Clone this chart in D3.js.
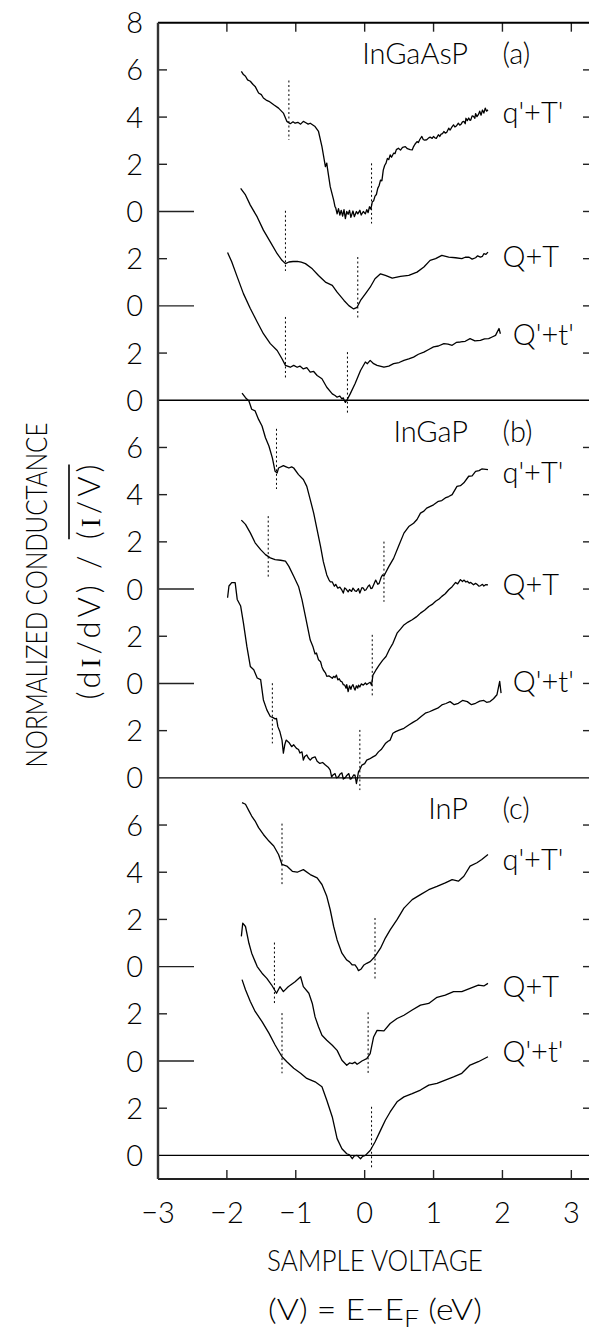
<!DOCTYPE html>
<html><head><meta charset="utf-8">
<script src="https://cdn.jsdelivr.net/npm/d3@7"></script>
<style>
html,body{margin:0;padding:0;background:#fff;}
svg{display:block;}
text{font-family:"Lato","Roboto",sans-serif;font-weight:300;fill:#000;}
</style></head>
<body>
<svg id="c" width="589" height="1331"></svg>
<script>
// ---------------- data ----------------
const xTickValues = [-3,-2,-1,0,1,2,3];
const xTickLabels = ["\u22123","\u22122","\u22121","0","1","2","3"];
const yLocalTicks = [0,2,4,6,8,10,12,14,16];
const yTickLabelsTop = ["0","2","0","2","0","2","4","6","8"];
const yTickLabelsLower = ["0","2","0","2","0","2","4","6"];
const panelNames = ["InGaAsP","InGaP","InP"];
const panelTags = ["(a)","(b)","(c)"];
const panelBase = [32,16,0];
const curveNames = ["q'+T'","Q+T","Q'+t'"];
const curveOffsets = [8,4,0];

// panel (a) InGaAsP
const a_qT = [[-1.79,5.94],[-1.76,5.80],[-1.73,5.73],[-1.70,5.58],[-1.66,5.52],[-1.62,5.38],[-1.59,5.30],[-1.54,5.02],[-1.50,4.95],[-1.47,4.81],[-1.43,4.72],[-1.39,4.67],[-1.32,4.52],[-1.25,4.38],[-1.18,4.17],[-1.13,3.82],[-1.08,3.72],[-1.04,3.80],[-1.01,3.74],[-0.97,3.78],[-0.93,3.70],[-0.89,3.82],[-0.86,3.77],[-0.82,3.70],[-0.79,3.74],[-0.72,3.60],[-0.67,3.39],[-0.62,2.75],[-0.57,1.90],[-0.55,2.05],[-0.54,1.83],[-0.50,1.05],[-0.45,0.48],[-0.43,0.20],[-0.42,0.15],[-0.40,-0.10],[-0.38,0.12],[-0.36,-0.15],[-0.34,0.05],[-0.32,-0.20],[-0.30,0.08],[-0.28,-0.30],[-0.26,0.00],[-0.24,-0.12],[-0.22,0.05],[-0.20,-0.25],[-0.17,0.02],[-0.15,-0.22],[-0.12,0.00],[-0.10,-0.10],[-0.07,0.05],[-0.05,-0.15],[-0.02,0.00],[0.01,-0.10],[0.03,0.08],[0.05,-0.05],[0.07,0.20],[0.09,0.10],[0.11,0.40],[0.13,0.45],[0.15,0.65],[0.17,0.72],[0.19,0.98],[0.21,1.10],[0.23,1.33],[0.25,1.30],[0.27,1.75],[0.29,1.95],[0.31,2.05],[0.33,2.25],[0.35,2.20],[0.37,2.40],[0.39,2.30],[0.42,2.47],[0.44,2.45],[0.46,2.62],[0.49,2.68],[0.52,2.60],[0.55,2.72],[0.59,2.75],[0.62,2.66],[0.66,2.62],[0.69,2.61],[0.71,2.75],[0.73,2.85],[0.76,2.96],[0.78,2.92],[0.80,3.05],[0.83,3.18],[0.85,3.05],[0.87,3.02],[0.90,3.04],[0.93,3.12],[0.95,3.15],[0.98,3.10],[1.00,3.18],[1.02,3.12],[1.04,3.10],[1.07,3.25],[1.09,3.18],[1.11,3.28],[1.13,3.30],[1.15,3.39],[1.17,3.32],[1.19,3.35],[1.22,3.53],[1.24,3.45],[1.26,3.55],[1.29,3.67],[1.31,3.58],[1.33,3.62],[1.36,3.74],[1.38,3.66],[1.40,3.70],[1.42,3.80],[1.44,3.82],[1.46,3.72],[1.47,3.95],[1.49,3.85],[1.51,3.96],[1.53,3.86],[1.54,3.88],[1.56,4.05],[1.58,4.03],[1.60,3.95],[1.61,4.15],[1.63,4.02],[1.65,4.10],[1.67,4.25],[1.69,4.08],[1.71,4.30],[1.73,4.17],[1.75,4.38],[1.77,4.25],[1.79,4.31]];
const a_QT = [[-1.80,4.98],[-1.73,4.70],[-1.66,4.27],[-1.56,3.77],[-1.47,3.21],[-1.37,2.71],[-1.27,2.21],[-1.20,1.93],[-1.15,1.79],[-1.10,1.86],[-1.04,1.88],[-0.98,1.89],[-0.92,1.85],[-0.86,1.79],[-0.76,1.57],[-0.67,1.29],[-0.57,1.01],[-0.47,0.87],[-0.40,0.58],[-0.30,0.23],[-0.23,0.01],[-0.16,-0.13],[-0.11,-0.06],[-0.06,0.23],[0.01,0.51],[0.08,0.79],[0.15,1.15],[0.23,1.36],[0.30,1.29],[0.40,1.18],[0.52,1.25],[0.64,1.29],[0.76,1.43],[0.86,1.65],[0.95,1.93],[1.03,2.00],[1.12,2.14],[1.22,2.07],[1.32,2.04],[1.41,2.00],[1.46,2.06],[1.51,2.07],[1.56,1.98],[1.61,2.04],[1.64,2.12],[1.68,2.07],[1.71,2.10],[1.73,2.21],[1.76,2.18],[1.79,2.28]];
const a_Qt = [[-1.99,6.26],[-1.93,5.87],[-1.85,5.23],[-1.76,4.52],[-1.66,3.89],[-1.56,3.32],[-1.47,2.82],[-1.37,2.40],[-1.27,2.11],[-1.20,1.76],[-1.15,1.48],[-1.08,1.40],[-1.03,1.48],[-0.98,1.40],[-0.94,1.45],[-0.89,1.33],[-0.84,1.38],[-0.79,1.19],[-0.74,1.22],[-0.69,1.05],[-0.62,0.91],[-0.55,0.55],[-0.47,0.27],[-0.43,0.20],[-0.40,0.13],[-0.36,0.18],[-0.33,0.06],[-0.31,0.10],[-0.30,0.02],[-0.28,-0.09],[-0.26,0.00],[-0.25,0.05],[-0.21,0.27],[-0.14,0.70],[-0.06,1.26],[0.01,1.62],[0.04,1.55],[0.08,1.69],[0.13,1.55],[0.18,1.48],[0.28,1.40],[0.35,1.45],[0.42,1.55],[0.50,1.60],[0.57,1.69],[0.64,1.75],[0.71,1.83],[0.78,1.95],[0.86,2.04],[0.93,2.15],[1.00,2.26],[1.07,2.30],[1.15,2.40],[1.21,2.38],[1.27,2.33],[1.33,2.45],[1.39,2.47],[1.46,2.50],[1.53,2.61],[1.60,2.52],[1.68,2.54],[1.74,2.60],[1.80,2.61],[1.85,2.68],[1.90,2.75],[1.95,3.04],[1.97,2.82]];

// panel (b) InGaP
const b_qT = [[-1.78,8.30],[-1.73,8.11],[-1.68,7.97],[-1.64,7.62],[-1.59,7.55],[-1.54,7.19],[-1.49,6.91],[-1.44,6.41],[-1.39,6.06],[-1.34,5.56],[-1.30,4.99],[-1.27,4.92],[-1.25,5.13],[-1.18,5.23],[-1.14,5.18],[-1.10,5.13],[-1.06,5.18],[-1.03,5.13],[-0.96,4.85],[-0.89,4.64],[-0.84,4.35],[-0.79,3.79],[-0.74,3.22],[-0.69,2.51],[-0.64,1.80],[-0.60,1.16],[-0.55,0.60],[-0.52,0.40],[-0.50,0.31],[-0.47,0.30],[-0.44,0.12],[-0.42,0.20],[-0.39,0.04],[-0.36,0.08],[-0.33,-0.05],[-0.31,-0.17],[-0.29,0.05],[-0.27,0.00],[-0.24,-0.12],[-0.22,-0.02],[-0.19,-0.10],[-0.17,0.04],[-0.14,-0.08],[-0.12,-0.10],[-0.09,0.02],[-0.07,-0.17],[-0.04,0.06],[-0.02,0.04],[0.00,-0.06],[0.02,-0.03],[0.05,0.12],[0.07,0.17],[0.09,0.02],[0.11,0.04],[0.14,0.25],[0.16,0.38],[0.19,0.20],[0.21,0.24],[0.24,0.50],[0.26,0.60],[0.28,0.55],[0.30,0.67],[0.35,0.95],[0.42,1.30],[0.49,1.80],[0.57,2.37],[0.64,2.65],[0.71,2.79],[0.76,2.95],[0.81,3.22],[0.86,3.30],[0.90,3.43],[1.00,3.57],[1.07,3.72],[1.12,3.75],[1.17,3.86],[1.22,3.92],[1.27,4.00],[1.34,4.35],[1.39,4.38],[1.44,4.50],[1.51,4.78],[1.56,4.80],[1.61,4.99],[1.66,5.02],[1.70,5.09],[1.79,5.06]];
const b_QT = [[-1.79,6.92],[-1.73,6.74],[-1.66,6.38],[-1.59,5.96],[-1.51,5.67],[-1.44,5.46],[-1.37,5.32],[-1.30,5.25],[-1.22,5.22],[-1.15,5.18],[-1.10,4.96],[-1.03,4.54],[-0.96,4.11],[-0.91,3.55],[-0.86,2.84],[-0.79,1.84],[-0.75,1.55],[-0.72,1.25],[-0.70,1.29],[-0.67,1.00],[-0.64,0.92],[-0.62,0.70],[-0.60,0.57],[-0.57,0.45],[-0.55,0.30],[-0.52,0.32],[-0.50,0.28],[-0.47,0.22],[-0.45,0.30],[-0.43,0.25],[-0.41,0.35],[-0.39,0.15],[-0.37,0.20],[-0.35,0.10],[-0.33,0.07],[-0.31,-0.05],[-0.29,-0.07],[-0.27,-0.20],[-0.26,-0.05],[-0.24,-0.35],[-0.22,-0.10],[-0.20,-0.25],[-0.19,-0.14],[-0.17,-0.05],[-0.15,-0.22],[-0.14,-0.28],[-0.12,-0.10],[-0.10,-0.20],[-0.09,-0.07],[-0.07,-0.15],[-0.05,-0.02],[-0.02,-0.07],[0.01,0.02],[0.03,-0.05],[0.05,0.00],[0.08,0.05],[0.10,-0.07],[0.12,0.35],[0.16,0.55],[0.21,0.78],[0.26,0.98],[0.31,1.14],[0.36,1.45],[0.41,1.70],[0.47,2.13],[0.52,2.30],[0.57,2.48],[0.63,2.60],[0.69,2.70],[0.75,2.82],[0.81,2.98],[0.87,3.10],[0.93,3.26],[0.98,3.35],[1.03,3.48],[1.08,3.58],[1.12,3.69],[1.17,3.80],[1.22,3.97],[1.27,4.10],[1.32,4.28],[1.35,4.22],[1.39,4.40],[1.42,4.32],[1.44,4.38],[1.47,4.30],[1.49,4.33],[1.52,4.25],[1.54,4.28],[1.58,4.18],[1.61,4.24],[1.63,4.20],[1.66,4.12],[1.68,4.14],[1.71,4.20],[1.73,4.13],[1.76,4.19],[1.79,4.18]];
const b_Qt = [[-1.99,7.63],[-1.97,8.13],[-1.93,8.27],[-1.88,8.27],[-1.85,7.56],[-1.80,7.28],[-1.76,6.57],[-1.71,5.57],[-1.66,4.72],[-1.61,4.58],[-1.56,4.23],[-1.51,4.16],[-1.47,3.30],[-1.42,2.88],[-1.37,2.60],[-1.33,2.55],[-1.30,2.50],[-1.28,2.52],[-1.26,2.17],[-1.23,1.95],[-1.20,1.60],[-1.18,1.05],[-1.16,1.40],[-1.14,1.60],[-1.10,1.50],[-1.06,1.32],[-1.03,1.40],[-0.99,1.25],[-0.96,1.20],[-0.94,1.05],[-0.91,1.10],[-0.89,0.75],[-0.87,0.90],[-0.84,0.97],[-0.82,0.85],[-0.79,0.75],[-0.76,0.85],[-0.72,0.89],[-0.69,0.70],[-0.65,0.61],[-0.61,0.65],[-0.57,0.54],[-0.53,0.45],[-0.50,0.33],[-0.48,0.04],[-0.46,0.12],[-0.43,0.18],[-0.41,0.00],[-0.38,0.04],[-0.36,0.15],[-0.33,0.21],[-0.31,-0.05],[-0.28,0.01],[-0.26,0.10],[-0.23,0.18],[-0.21,-0.05],[-0.19,-0.03],[-0.16,0.12],[-0.14,0.11],[-0.12,-0.24],[-0.11,-0.10],[-0.09,0.25],[-0.07,0.35],[-0.04,0.54],[0.00,0.60],[0.03,0.75],[0.07,0.80],[0.12,0.89],[0.16,0.95],[0.20,1.10],[0.24,1.20],[0.27,1.32],[0.30,1.45],[0.34,1.55],[0.37,1.60],[0.41,1.89],[0.45,1.96],[0.51,2.03],[0.57,2.10],[0.64,2.24],[0.70,2.35],[0.76,2.45],[0.82,2.60],[0.88,2.74],[0.94,2.80],[1.00,2.88],[1.06,2.95],[1.12,3.09],[1.18,3.15],[1.24,3.23],[1.30,3.10],[1.36,3.16],[1.42,3.28],[1.49,3.23],[1.55,3.10],[1.61,3.16],[1.67,3.25],[1.73,3.28],[1.77,3.20],[1.82,3.23],[1.87,3.35],[1.92,3.52],[1.96,4.09],[1.98,3.59]];

// panel (c) InP
const c_qT = [[-1.78,6.95],[-1.73,6.88],[-1.68,6.60],[-1.64,6.38],[-1.59,6.17],[-1.54,5.89],[-1.47,5.60],[-1.39,5.32],[-1.32,5.11],[-1.25,4.75],[-1.20,4.33],[-1.13,4.26],[-1.05,4.04],[-0.98,4.00],[-0.89,4.11],[-0.79,3.90],[-0.69,3.76],[-0.62,3.48],[-0.55,2.98],[-0.50,2.41],[-0.45,1.70],[-0.40,1.13],[-0.33,0.57],[-0.26,0.28],[-0.22,0.20],[-0.18,0.07],[-0.14,0.07],[-0.11,-0.05],[-0.09,-0.17],[-0.05,-0.10],[-0.01,0.07],[0.03,0.14],[0.08,0.21],[0.15,0.43],[0.23,0.78],[0.30,1.21],[0.37,1.56],[0.47,1.99],[0.57,2.48],[0.69,2.84],[0.81,3.05],[0.93,3.26],[1.05,3.40],[1.17,3.55],[1.27,3.69],[1.36,3.62],[1.44,3.83],[1.53,4.26],[1.63,4.40],[1.70,4.54],[1.79,4.75]];
const c_QT = [[-1.79,5.28],[-1.77,5.84],[-1.73,5.70],[-1.68,4.99],[-1.64,4.57],[-1.56,4.00],[-1.49,3.72],[-1.42,3.50],[-1.35,3.22],[-1.28,2.87],[-1.23,3.15],[-1.18,2.94],[-1.11,3.15],[-1.01,3.36],[-0.93,3.57],[-0.89,3.15],[-0.81,2.87],[-0.76,2.44],[-0.72,1.87],[-0.67,1.45],[-0.62,1.09],[-0.55,0.88],[-0.47,0.67],[-0.40,0.45],[-0.33,0.03],[-0.26,-0.18],[-0.22,-0.08],[-0.18,-0.11],[-0.14,-0.05],[-0.11,-0.14],[-0.07,-0.06],[-0.04,0.00],[0.03,0.10],[0.08,0.31],[0.13,1.02],[0.18,1.30],[0.28,1.28],[0.37,1.59],[0.47,1.80],[0.57,1.94],[0.69,2.16],[0.81,2.37],[0.93,2.44],[1.05,2.70],[1.17,2.79],[1.29,2.94],[1.41,2.94],[1.53,3.08],[1.65,3.22],[1.73,3.18],[1.79,3.29]];
const c_Qt = [[-1.78,7.45],[-1.73,7.02],[-1.66,6.52],[-1.59,6.10],[-1.49,5.67],[-1.39,5.18],[-1.30,4.68],[-1.20,4.18],[-1.13,3.97],[-1.03,3.69],[-0.93,3.48],[-0.84,3.26],[-0.72,3.12],[-0.62,2.91],[-0.55,2.34],[-0.47,1.63],[-0.40,0.71],[-0.33,0.28],[-0.26,0.07],[-0.22,0.02],[-0.18,-0.14],[-0.15,-0.02],[-0.11,0.00],[-0.06,-0.14],[-0.03,-0.04],[0.01,0.00],[0.08,0.21],[0.15,0.57],[0.23,1.06],[0.30,1.49],[0.37,1.84],[0.47,2.27],[0.57,2.48],[0.69,2.62],[0.81,2.77],[0.93,2.98],[1.05,3.05],[1.17,3.19],[1.29,3.33],[1.41,3.48],[1.53,3.83],[1.65,3.97],[1.79,4.18]];

// band-edge markers: [V, top, bottom]
const a_qT_edges = [[-1.10,5.55,3.04],[0.10,2.04,-0.51]];
const a_QT_edges = [[-1.15,4.03,1.48],[-0.10,2.07,-0.55]];
const a_Qt_edges = [[-1.15,3.53,0.91],[-0.25,2.04,-0.58]];
const b_qT_edges = [[-1.28,6.79,4.24],[0.28,2.01,-0.54]];
const b_QT_edges = [[-1.40,7.09,4.47],[0.11,2.06,-0.57]];
const b_Qt_edges = [[-1.34,4.01,1.46],[-0.07,2.03,-0.52]];
const c_qT_edges = [[-1.20,6.06,3.48],[0.15,2.06,-0.57]];
const c_QT_edges = [[-1.31,5.02,2.44],[0.05,2.06,-0.54]];
const c_Qt_edges = [[-1.20,6.03,3.48],[0.10,2.06,-0.57]];

const curves = [[a_qT,a_QT,a_Qt],[b_qT,b_QT,b_Qt],[c_qT,c_QT,c_Qt]];
const edges = [[a_qT_edges,a_QT_edges,a_Qt_edges],[b_qT_edges,b_QT_edges,b_Qt_edges],[c_qT_edges,c_QT_edges,c_Qt_edges]];

// ---------------- layout ----------------
const curveLabelPos = [
  [[2.0,3.75],[2.0,1.64],[2.15,2.34]],
  [[2.0,4.49],[2.0,3.75],[2.15,3.64]],
  [[2.0,4.09],[2.0,2.71],[2.0,3.94]]
];
const svg = d3.select("#c");
const x = d3.scaleLinear().domain([-3,3.3]).range([158,592]);
const yU = d3.scaleLinear().domain([-1,48]).range([1179,22.7]);
const Y = (p,v) => yU(panelBase[p]+v);
const xL = x(-3), xR = x(3.3);

const FS = 29;
function fitX(sel, cx, w){
  const n = sel.node(); const bb = n.getBBox();
  const s = w / bb.width;
  sel.attr("transform", `translate(${cx},0) scale(${s},1) translate(${-cx},0)`);
}

// curves
const line = d3.line().x(d=>x(d[0]));
curves.forEach((set,p)=>{
  set.forEach((data,k)=>{
    svg.append("path").datum(data)
      .attr("d", line.y(d=>Y(p, curveOffsets[k]+d[1])))
      .attr("fill","none").attr("stroke","#000").attr("stroke-width",1.3)
      .attr("stroke-linejoin","round");
    edges[p][k].forEach(e=>{
      svg.append("line").attr("x1",x(e[0])).attr("x2",x(e[0]))
        .attr("y1",Y(p,curveOffsets[k]+e[1])).attr("y2",Y(p,curveOffsets[k]+e[2]))
        .attr("stroke","#000").attr("stroke-width",1).attr("stroke-dasharray","2,2.5");
    });
    const lp = curveLabelPos[p][k];
    svg.append("text").attr("x",x(lp[0])).attr("y",Y(p,curveOffsets[k]+lp[1]))
      .attr("font-size",FS).text(curveNames[k]);
  });
  svg.append("text").attr("x",x(1.5)).attr("y",Y(p,14.25)).attr("text-anchor","end")
    .attr("font-size",FS).text(panelNames[p]);
  svg.append("text").attr("x",x(2.0)).attr("y",Y(p,14.25))
    .attr("font-size",FS).text(panelTags[p]);
});

// horizontal full lines at panel zeros
panelBase.forEach(b=>{
  svg.append("line").attr("x1",xL).attr("x2",xR).attr("y1",yU(b)).attr("y2",yU(b))
    .attr("stroke","#000").attr("stroke-width",1.3);
});

// y ticks and labels
panelBase.forEach((b,p)=>{
  yLocalTicks.forEach((v,i)=>{
    if (v===0 || v===16) return;
    const yy = yU(b+v);
    const long = (v===4 || v===8);
    svg.append("line").attr("x1",xL).attr("x2",xL+(long?36:9)).attr("y1",yy).attr("y2",yy)
      .attr("stroke","#222").attr("stroke-width",1.4);
    svg.append("line").attr("x1",xR-9).attr("x2",xR).attr("y1",yy).attr("y2",yy)
      .attr("stroke","#222").attr("stroke-width",1.4);
  });
  const labs = p===0 ? yTickLabelsTop : yTickLabelsLower;
  labs.forEach((s,i)=>{
    svg.append("text").attr("x",143).attr("y",yU(b+yLocalTicks[i])+10.5)
      .attr("text-anchor","end").attr("font-size",FS).text(s);
  });
});

// x ticks
xTickValues.forEach((v,i)=>{
  if (v>-3){
    svg.append("line").attr("x1",x(v)).attr("x2",x(v)).attr("y1",yU(-1)).attr("y2",yU(-1)-9)
      .attr("stroke","#222").attr("stroke-width",1.4);
    svg.append("line").attr("x1",x(v)).attr("x2",x(v)).attr("y1",yU(48)).attr("y2",yU(48)+9)
      .attr("stroke","#222").attr("stroke-width",1.4);
  }
  svg.append("text").attr("x",x(v)).attr("y",1223).attr("text-anchor","middle")
    .attr("font-size",FS).text(xTickLabels[i]);
});

// frame
svg.append("line").attr("x1",xL).attr("x2",xR).attr("y1",yU(48)).attr("y2",yU(48)).attr("stroke","#000").attr("stroke-width",2);
svg.append("line").attr("x1",xL).attr("x2",xR).attr("y1",yU(-1)).attr("y2",yU(-1)).attr("stroke","#222").attr("stroke-width",2.2);
svg.append("line").attr("x1",xL).attr("x2",xL).attr("y1",yU(48)).attr("y2",yU(-1)).attr("stroke","#333").attr("stroke-width",2.4);
svg.append("line").attr("x1",xR).attr("x2",xR).attr("y1",yU(48)).attr("y2",yU(-1)).attr("stroke","#333").attr("stroke-width",2);

// x title
const xt1 = svg.append("text").attr("x",375).attr("y",1271).attr("text-anchor","middle")
  .attr("font-size",30).text("SAMPLE VOLTAGE");
fitX(xt1,375,216);
const xt2 = svg.append("text").attr("x",375).attr("y",1320).attr("text-anchor","middle").attr("font-size",30);
xt2.append("tspan").text("(V) = E\u2212E");
xt2.append("tspan").attr("dy",7).attr("font-size",24).text("F");
xt2.append("tspan").attr("dy",-7).text(" (eV)");
fitX(xt2,375,214);

// y title
const g1 = svg.append("g").attr("transform","translate(47,595) rotate(-90)");
g1.append("text").attr("x",0).attr("y",0).attr("text-anchor","middle").attr("font-size",30)
  .attr("textLength",345).attr("lengthAdjust","spacingAndGlyphs").text("NORMALIZED CONDUCTANCE");
const g2 = svg.append("g").attr("transform","translate(100,582) rotate(-90)");
const t2 = g2.append("text").attr("x",0).attr("y",0).attr("text-anchor","middle").attr("font-size",31)
  .attr("textLength",235).attr("lengthAdjust","spacing");
t2.append("tspan").text("(d");
t2.append("tspan").attr("font-family","Liberation Serif").attr("font-size",27).text("I");
t2.append("tspan").text("/dV) / (");
t2.append("tspan").attr("font-family","Liberation Serif").attr("font-size",27).text("I");
t2.append("tspan").text("/V)");
// overline above "(I/V)"
const n2 = t2.node();
const total = n2.getNumberOfChars();
const startIdx = 10; // index of "(" before second I
const p0 = n2.getStartPositionOfChar(startIdx).x;
const p1 = n2.getEndPositionOfChar(total-1).x;
g2.append("line").attr("x1",p0).attr("x2",p1).attr("y1",-31).attr("y2",-31)
  .attr("stroke","#000").attr("stroke-width",1.6);
</script>
</body></html>
